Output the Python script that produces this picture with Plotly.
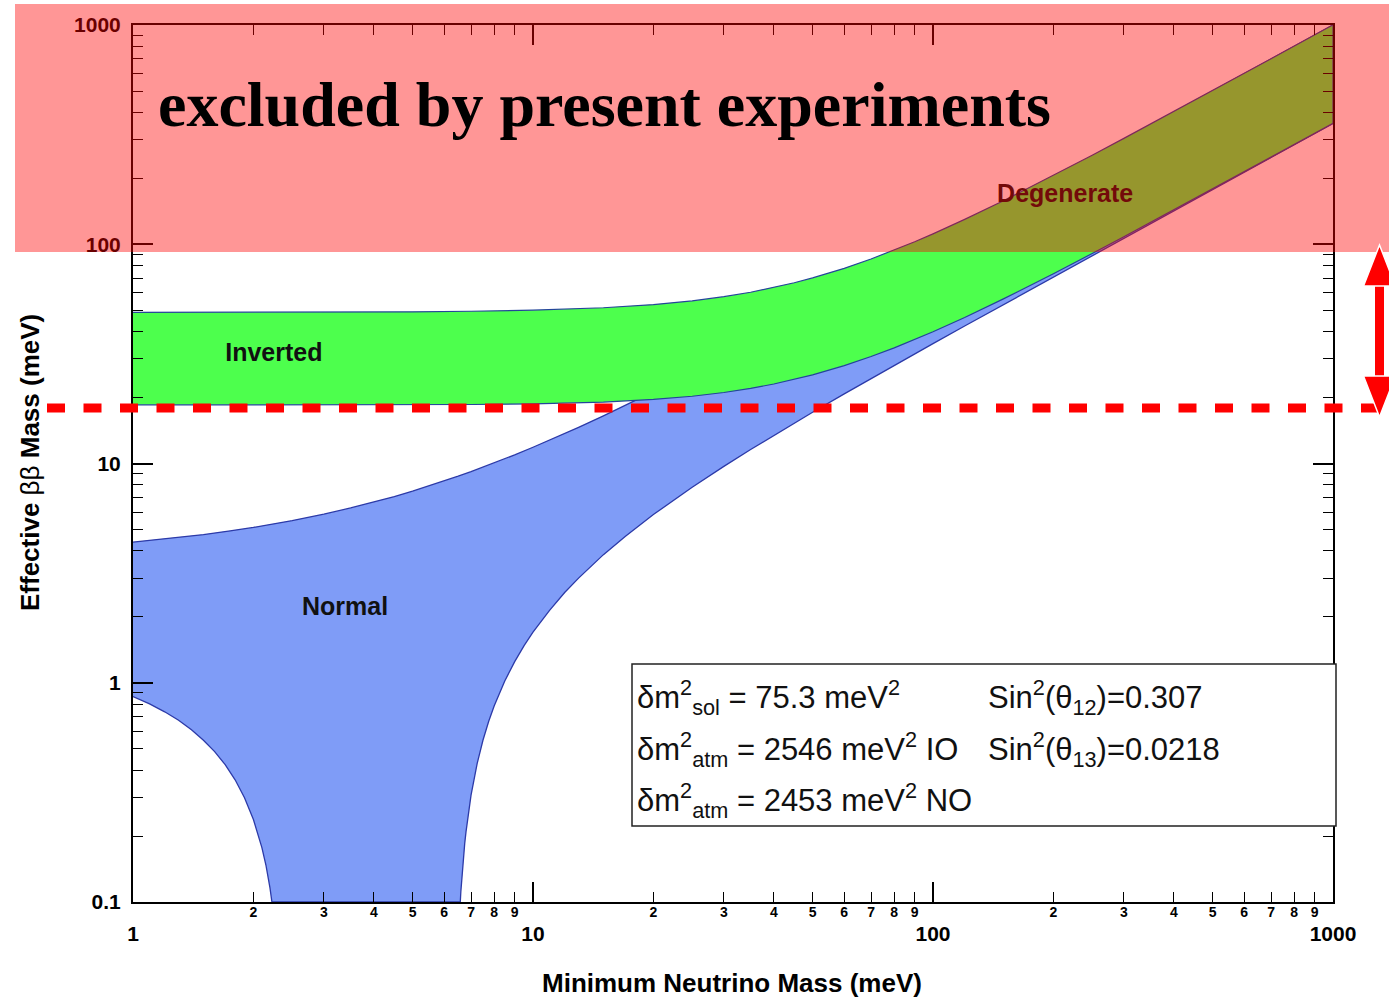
import plotly.graph_objects as go

# ---------------- data ----------------
no_upper_x = [1, 1.25, 1.5, 1.75, 2, 2.5, 3, 3.5, 4, 4.5, 5, 5.5, 6, 6.5, 7, 7.5, 8, 9, 10, 11, 12, 13, 15, 17,
              20, 25, 30, 35, 40, 50, 60, 70, 85, 100, 120, 150, 200, 250, 300, 400, 500, 700, 1000]
no_upper_y = [4.38, 4.56, 4.74, 4.93, 5.11, 5.49, 5.87, 6.27, 6.66, 7.07, 7.48, 7.90, 8.32, 8.75, 9.18, 9.62,
              10.06, 10.95, 11.86, 12.77, 13.69, 14.62, 16.50, 18.40, 21.27, 26.10, 30.98, 35.88, 40.80, 50.67,
              60.58, 70.50, 85.43, 100.4, 120.3, 150.3, 200.2, 250.1, 300.1, 400.1, 500.1, 700.1, 1000.0]

no_lower_left_x = [1, 1.1, 1.2, 1.3, 1.4, 1.5, 1.6, 1.7, 1.8, 1.9, 2, 2.05, 2.1, 2.15, 2.2, 2.225]
no_lower_left_y = [0.865, 0.801, 0.737, 0.674, 0.610, 0.547, 0.485, 0.423, 0.361, 0.299, 0.238, 0.207, 0.177,
                   0.147, 0.116, 0.1]

no_lower_right_x = [6.58, 6.6, 6.65, 6.7, 6.75, 6.8, 6.9, 7, 7.25, 7.5, 7.75, 8, 8.5, 9, 9.5, 10, 11, 12, 13,
                    15, 17, 20, 25, 30, 35, 40, 50, 60, 70, 85, 100, 120, 150, 200, 250, 300, 400, 500, 700, 1000]
no_lower_right_y = [0.1, 0.111, 0.136, 0.160, 0.185, 0.209, 0.258, 0.307, 0.428, 0.548, 0.667, 0.785, 1.019,
                    1.249, 1.477, 1.70, 2.14, 2.58, 3.00, 3.84, 4.65, 5.85, 7.79, 9.70, 11.58, 13.44, 17.12,
                    20.77, 24.40, 29.82, 35.21, 42.39, 53.12, 70.97, 88.80, 106.6, 142.2, 177.8, 249.0, 355.8]

io_x = [1, 2, 3, 5, 7, 10, 15, 20, 25, 30, 35, 40, 45, 50, 60, 70, 80, 90, 100, 120, 150, 200, 250, 300, 400,
        500, 700, 1000]
io_upper = [48.88, 48.93, 49.00, 49.20, 49.48, 50.04, 51.33, 53.06, 55.17, 57.64, 60.42, 63.46, 66.74, 70.22,
            77.67, 85.64, 94.00, 102.6, 111.5, 129.8, 157.9, 206.0, 254.8, 304.0, 403.0, 502.4, 701.7, 1001.2]
io_lower = [18.52, 18.51, 18.51, 18.53, 18.58, 18.71, 19.06, 19.59, 20.26, 21.08, 22.01, 23.04, 24.17, 25.37,
            27.97, 30.76, 33.70, 36.75, 39.88, 46.34, 56.33, 73.40, 90.75, 108.3, 143.5, 178.8, 249.7, 356.3]

major_vals = [1, 10, 100, 1000]
major_text = ["1", "10", "100", "1000"]
minor_vals = [d * 10 ** k for k in range(3) for d in range(2, 10)]
minor_text = [str(d) for k in range(3) for d in range(2, 10)]
y_major_vals = [0.1, 1, 10, 100, 1000]
y_major_text = ["0.1", "1", "10", "100", "1000"]
y_minor_vals = [d * 10.0 ** k for k in range(-1, 3) for d in range(2, 10)]

band_labels = ["Inverted", "Normal", "Degenerate"]
band_label_x = [2.25, 3.39, 214]
band_label_y = [31.3, 2.17, 166]

# ---------------- layout geometry helpers ----------------
FW, FH = 1389, 998
L, T, W, H = 133, 25, 1200, 877


def fx(p):
    return (p - L) / W


def fy(p):
    return (T + H - p) / H


fig = go.Figure()

# Normal ordering band (polygon: upper edge, then lower edge back)
no_poly_x = no_upper_x + no_lower_right_x[::-1] + no_lower_left_x[::-1]
no_poly_y = no_upper_y + no_lower_right_y[::-1] + no_lower_left_y[::-1]
fig.add_trace(go.Scatter(x=no_poly_x, y=no_poly_y, mode="lines", fill="toself",
                         fillcolor="#7f9cf7", line=dict(color="#2c3aa8", width=1.3),
                         hoverinfo="skip", showlegend=False))

# Inverted ordering band
io_poly_x = io_x + io_x[::-1]
io_poly_y = io_upper + io_lower[::-1]
fig.add_trace(go.Scatter(x=io_poly_x, y=io_poly_y, mode="lines", fill="toself",
                         fillcolor="#4dff4d", line=dict(color="#24459a", width=1.2),
                         hoverinfo="skip", showlegend=False))

# band labels (drawn under the red overlay); placed on the overlaid x axis
fig.add_trace(go.Scatter(x=band_label_x, y=band_label_y, mode="text", text=band_labels, xaxis="x2",
                         textfont=dict(family="Liberation Sans", size=25, color="#111111", weight="bold"),
                         hoverinfo="skip", showlegend=False))

tickfont_major = dict(family="Liberation Sans", size=21, color="black", weight="bold")

fig.update_layout(
    width=FW, height=FH,
    margin=dict(l=L, r=FW - L - W, t=T, b=FH - T - H),
    paper_bgcolor="white", plot_bgcolor="white",
    showlegend=False,
    xaxis=dict(type="log", range=[0, 3], tickmode="array", tickvals=major_vals, ticktext=major_text,
               ticks="inside", ticklen=20, tickwidth=1.5, tickcolor="black",
               showline=True, linecolor="black", linewidth=2, mirror="ticks",
               showgrid=False, zeroline=False, tickfont=tickfont_major, ticklabelstandoff=12,
               minor=dict(tickmode="array", tickvals=minor_vals, ticks="inside", ticklen=10,
                          tickwidth=1.3, tickcolor="black", showgrid=False)),
    xaxis2=dict(type="log", range=[0, 3], overlaying="x", anchor="y", side="bottom",
                tickmode="array", tickvals=minor_vals, ticktext=minor_text, ticks="",
                showline=False, showgrid=False, zeroline=False, ticklabelstandoff=0,
                tickfont=dict(family="Liberation Sans", size=14, color="black", weight="bold")),
    yaxis=dict(type="log", range=[-1, 3], tickmode="array", tickvals=y_major_vals, ticktext=y_major_text,
               ticks="inside", ticklen=20, tickwidth=1.5, tickcolor="black",
               showline=True, linecolor="black", linewidth=2, mirror="ticks",
               showgrid=False, zeroline=False, tickfont=tickfont_major, ticklabelstandoff=6,
               minor=dict(tickmode="array", tickvals=y_minor_vals, ticks="inside", ticklen=10,
                          tickwidth=1.3, tickcolor="black", showgrid=False)),
)

shapes = []
# excluded region overlay
shapes.append(dict(type="rect", xref="paper", yref="paper", x0=fx(15), x1=fx(1395), y0=fy(252), y1=fy(4),
                   fillcolor="rgba(255,0,0,0.41)", line=dict(width=0), layer="above"))
# dashed sensitivity line
shapes.append(dict(type="line", xref="paper", yref="paper", x0=fx(47), x1=fx(1381), y0=fy(408), y1=fy(408),
                   line=dict(color="#ff0000", width=9, dash="18px,18.5px"), layer="above"))
# double arrow
cx = 1379.5


def P(x, y):
    return f"{fx(x):.5f},{fy(y):.5f}"


shapes.append(dict(type="path", xref="paper", yref="paper",
                   path=f"M {P(cx-4.5, 285)} L {P(cx+4.5, 285)} L {P(cx+4.5, 377)} L {P(cx-4.5, 377)} Z",
                   fillcolor="#ff0000", line=dict(width=0), layer="above"))
shapes.append(dict(type="path", xref="paper", yref="paper",
                   path=f"M {P(cx, 245)} L {P(cx+16, 286)} L {P(cx-16, 286)} Z",
                   fillcolor="#ff0000", line=dict(color="white", width=1.5), layer="above"))
shapes.append(dict(type="path", xref="paper", yref="paper",
                   path=f"M {P(cx, 417)} L {P(cx+16, 376)} L {P(cx-16, 376)} Z",
                   fillcolor="#ff0000", line=dict(color="white", width=1.5), layer="above"))
# parameter box
shapes.append(dict(type="rect", xref="paper", yref="paper", x0=fx(632), x1=fx(1336), y0=fy(826), y1=fy(664),
                   fillcolor="white", line=dict(color="#222222", width=1.5), layer="above"))
fig.update_layout(shapes=shapes)

ann = []
ann.append(dict(text="<b>excluded by present experiments</b>", xref="paper", yref="paper",
                x=fx(604), y=fy(104), xanchor="center", yanchor="middle", showarrow=False,
                font=dict(family="Liberation Serif", size=64, color="black")))
ann.append(dict(text="<b>Minimum Neutrino Mass (meV)</b>", xref="paper", yref="paper",
                x=fx(732), y=fy(983), xanchor="center", yanchor="middle", showarrow=False,
                font=dict(family="Liberation Sans", size=26, color="black")))
ann.append(dict(text="<b>Effective </b>ββ<b> Mass (meV)</b>", xref="paper", yref="paper",
                x=fx(30), y=fy(463), xanchor="center", yanchor="middle", showarrow=False, textangle=-90,
                font=dict(family="Liberation Sans", size=26, color="black")))

box_font = dict(family="Liberation Sans", size=31, color="#111111")
col1 = ["δm<sup>2</sup><sub>sol</sub> = 75.3 meV<sup>2</sup>",
        "δm<sup>2</sup><sub>atm</sub> = 2546 meV<sup>2</sup> IO",
        "δm<sup>2</sup><sub>atm</sub> = 2453 meV<sup>2</sup> NO"]
col2 = ["Sin<sup>2</sup>(θ<sub>12</sub>)=0.307",
        "Sin<sup>2</sup>(θ<sub>13</sub>)=0.0218"]
line_y = [697, 749, 800]
for i, t in enumerate(col1):
    ann.append(dict(text=t, xref="paper", yref="paper", x=fx(635), y=fy(line_y[i]), xanchor="left",
                    yanchor="middle", showarrow=False, font=box_font))
for i, t in enumerate(col2):
    ann.append(dict(text=t, xref="paper", yref="paper", x=fx(986), y=fy(line_y[i]), xanchor="left",
                    yanchor="middle", showarrow=False, font=box_font))
fig.update_layout(annotations=ann)

fig.write_html("out.html")
